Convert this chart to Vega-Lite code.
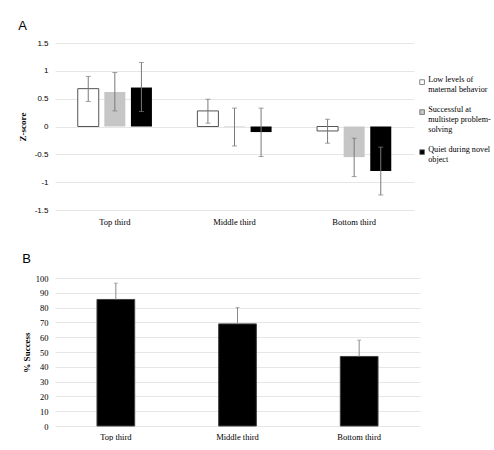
{
  "$schema": "https://vega.github.io/schema/vega-lite/v6.json",
  "background": "white",
  "padding": {"left": 18, "top": 20, "right": 0, "bottom": 0},
  "spacing": 27,
  "config": {
    "font": "Liberation Serif",
    "view": {"stroke": null},
    "axis": {"labelFont": "Liberation Serif", "titleFont": "Liberation Serif", "gridColor": "#e6e6e6", "domain": false, "ticks": false, "labelColor": "#000000", "titleColor": "#000000", "labelOverlap": false, "labelFlush": false},
    "title": {"font": "Liberation Sans", "fontSize": 13, "fontWeight": "normal", "anchor": "start", "frame": "bounds", "color": "#000000"}
  },
  "datasets": {
    "zs": [
      {"group": "Top third", "series": "Low levels of maternal behavior", "value": 0.68, "lo": 0.45, "hi": 0.9},
      {"group": "Top third", "series": "Successful at multistep problem-solving", "value": 0.62, "lo": 0.28, "hi": 0.97},
      {"group": "Top third", "series": "Quiet during novel object", "value": 0.7, "lo": 0.27, "hi": 1.15},
      {"group": "Middle third", "series": "Low levels of maternal behavior", "value": 0.28, "lo": 0.06, "hi": 0.49},
      {"group": "Middle third", "series": "Successful at multistep problem-solving", "value": -0.01, "lo": -0.35, "hi": 0.33},
      {"group": "Middle third", "series": "Quiet during novel object", "value": -0.1, "lo": -0.54, "hi": 0.33},
      {"group": "Bottom third", "series": "Low levels of maternal behavior", "value": -0.08, "lo": -0.3, "hi": 0.13},
      {"group": "Bottom third", "series": "Successful at multistep problem-solving", "value": -0.55, "lo": -0.9, "hi": -0.21},
      {"group": "Bottom third", "series": "Quiet during novel object", "value": -0.8, "lo": -1.23, "hi": -0.37}
    ],
    "pct": [
      {"group": "Top third", "value": 85.5, "hi": 96.5},
      {"group": "Middle third", "value": 69, "hi": 80},
      {"group": "Bottom third", "value": 47, "hi": 58}
    ]
  },
  "vconcat": [
    {
      "title": {"text": "A", "offset": 6},
      "width": 359,
      "height": 167,
      "data": {"name": "zs"},
      "encoding": {
        "x": {"field": "group", "type": "nominal", "sort": ["Top third", "Middle third", "Bottom third"], "scale": {"paddingInner": 0, "paddingOuter": 0}, "axis": {"title": null, "labelAngle": 0, "labelFontSize": 8.5, "labelPadding": 7, "grid": false}},
        "xOffset": {"field": "series", "type": "nominal", "sort": ["Low levels of maternal behavior", "Successful at multistep problem-solving", "Quiet during novel object"], "scale": {"paddingInner": 0.21, "paddingOuter": 0.855}}
      },
      "layer": [
        {
          "mark": {"type": "bar", "strokeWidth": 1},
          "encoding": {
            "y": {"field": "value", "type": "quantitative", "scale": {"domain": [-1.5, 1.5], "nice": false}, "axis": {"values": [-1.5, -1, -0.5, 0, 0.5, 1, 1.5], "tickCount": 7, "labelExpr": "'' + datum.value", "labelFont": "Liberation Sans", "labelFontSize": 8, "labelPadding": 7, "title": "Z-score", "titleFontWeight": "bold", "titleFontSize": 9, "titlePadding": 7}},
            "fill": {"field": "series", "type": "nominal", "sort": ["Low levels of maternal behavior", "Successful at multistep problem-solving", "Quiet during novel object"], "scale": {"range": ["#ffffff", "#c6c6c6", "#000000"]}, "legend": {"title": null, "orient": "none", "legendX": 363, "legendY": 35, "symbolType": "square", "symbolSize": 22, "symbolStrokeWidth": 0.8, "symbolStrokeColor": "#666666", "labelFont": "Liberation Serif", "labelFontSize": 8.2, "labelFontWeight": "normal", "labelColor": "#000000", "labelBaseline": "alphabetic", "labelOffset": 2, "labelLimit": 0, "rowPadding": 11, "labelExpr": "datum.label == 'Low levels of maternal behavior' ? ['Low levels of', 'maternal behavior'] : datum.label == 'Successful at multistep problem-solving' ? ['Successful at', 'multistep problem-', 'solving'] : ['Quiet during novel', 'object']"}},
            "stroke": {"condition": {"test": "datum.series == 'Low levels of maternal behavior'", "value": "#555555"}, "value": null}
          }
        },
        {
          "mark": {"type": "rule", "color": "#7a7a7a"},
          "encoding": {"y": {"field": "lo", "type": "quantitative"}, "y2": {"field": "hi"}}
        },
        {
          "mark": {"type": "tick", "color": "#7a7a7a", "size": 5, "thickness": 1, "orient": "horizontal"},
          "encoding": {"y": {"field": "lo", "type": "quantitative"}}
        },
        {
          "mark": {"type": "tick", "color": "#7a7a7a", "size": 5, "thickness": 1, "orient": "horizontal"},
          "encoding": {"y": {"field": "hi", "type": "quantitative"}}
        }
      ]
    },
    {
      "title": {"text": "B", "offset": 8},
      "width": 365,
      "height": 148,
      "data": {"name": "pct"},
      "encoding": {
        "x": {"field": "group", "type": "nominal", "sort": ["Top third", "Middle third", "Bottom third"], "scale": {"paddingInner": 0.69, "paddingOuter": 0.345}, "axis": {"title": null, "labelAngle": 0, "labelFontSize": 8.5, "labelPadding": 6, "grid": false}}
      },
      "layer": [
        {
          "mark": {"type": "bar", "color": "#000000", "stroke": "#404040", "strokeWidth": 1},
          "encoding": {"y": {"field": "value", "type": "quantitative", "scale": {"domain": [0, 100], "nice": false}, "axis": {"values": [0, 10, 20, 30, 40, 50, 60, 70, 80, 90, 100], "tickCount": 11, "labelFontSize": 8.5, "labelPadding": 7, "title": "% Success", "titleFontWeight": "bold", "titleFontSize": 9, "titlePadding": 4}}}
        },
        {
          "mark": {"type": "rule", "color": "#8a8a8a"},
          "encoding": {"y": {"field": "value", "type": "quantitative"}, "y2": {"field": "hi"}}
        },
        {
          "mark": {"type": "tick", "color": "#8a8a8a", "size": 4, "thickness": 1, "orient": "horizontal"},
          "encoding": {"y": {"field": "hi", "type": "quantitative"}}
        }
      ]
    }
  ]
}
